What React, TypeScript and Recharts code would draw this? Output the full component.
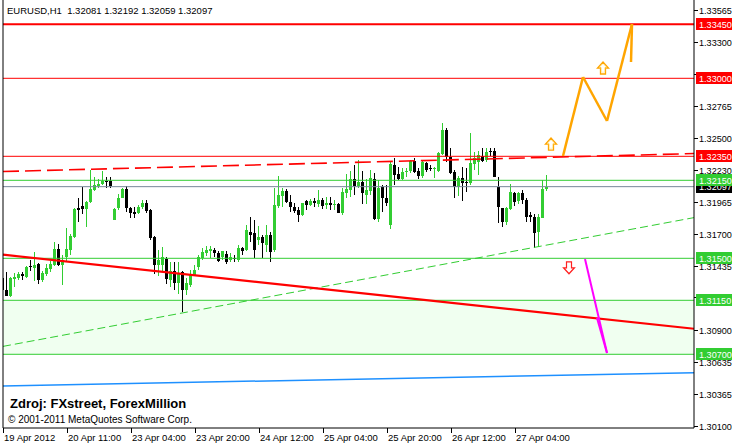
import React from 'react';
import { ComposedChart, Bar, XAxis, YAxis, ReferenceLine, ReferenceArea, ReferenceDot } from 'recharts';

const FONT = "'Liberation Sans', Arial, sans-serif";

// EURUSD H1 candles (bar index 0 = 19 Apr 2012 19:00)
const opens = [
  1.31336, 1.31236, 1.31186, 1.31328, 1.31336, 1.31369, 1.31344, 1.31436, 1.31419, 1.31453,
  1.31319, 1.31369, 1.31411, 1.31444, 1.31578, 1.31444, 1.31511, 1.31569, 1.31678, 1.31919,
  1.31936, 1.31911, 1.31969, 1.32069, 1.32103, 1.32119, 1.32148, 1.32144, 1.31819, 1.31919,
  1.32003, 1.32078, 1.31919, 1.31882, 1.31878, 1.31928, 1.31961, 1.31903, 1.31678, 1.31444,
  1.31444, 1.31494, 1.31319, 1.31394, 1.31294, 1.31386, 1.31236, 1.31278, 1.31361, 1.31428,
  1.31503, 1.31544, 1.31561, 1.31569, 1.31544, 1.31511, 1.31536, 1.31486, 1.31503, 1.31486,
  1.31586, 1.31569, 1.31719, 1.31711, 1.31653, 1.31678, 1.31611, 1.31694, 1.31569, 1.31936,
  1.32019, 1.32061, 1.31969, 1.31928, 1.31903, 1.31861, 1.31978, 1.31944, 1.31978, 1.31953,
  1.31986, 1.31944, 1.31961, 1.31944, 1.31953, 1.31878, 1.32044, 1.32069, 1.32161, 1.32103,
  1.32136, 1.32028, 1.32061, 1.32161, 1.31828, 1.32094, 1.32003, 1.31778, 1.32278, 1.32203,
  1.32161, 1.32215, 1.32228, 1.32311, 1.32228, 1.32186, 1.32294, 1.32253, 1.32244, 1.32228,
  1.32369, 1.32569, 1.32344, 1.32219, 1.32094, 1.32169, 1.32136, 1.32128, 1.32286, 1.32303,
  1.32353, 1.32319, 1.32394, 1.32394, 1.32094, 1.31919, 1.31803, 1.31911, 1.32044, 1.31978,
  1.32044, 1.31986, 1.31861, 1.31844, 1.31719, 1.31836, 1.32081,
];
const highs = [
  1.31344, 1.31386, 1.31344, 1.31378, 1.31386, 1.31386, 1.31436, 1.31486, 1.31553, 1.31461,
  1.31394, 1.31453, 1.31478, 1.31636, 1.31619, 1.31528, 1.31753, 1.31703, 1.31919, 1.32003,
  1.32094, 1.31978, 1.32236, 1.32178, 1.32161, 1.32228, 1.32178, 1.32178, 1.31919, 1.32036,
  1.32086, 1.32103, 1.31928, 1.31928, 1.31944, 1.31986, 1.31986, 1.31911, 1.31686, 1.31569,
  1.31594, 1.31511, 1.31469, 1.31469, 1.31469, 1.31394, 1.31336, 1.31403, 1.31444, 1.31528,
  1.31586, 1.31603, 1.31603, 1.31586, 1.31561, 1.31561, 1.31561, 1.31544, 1.31528, 1.31611,
  1.31594, 1.31778, 1.31844, 1.31819, 1.31769, 1.31694, 1.31778, 1.31719, 1.32086, 1.32186,
  1.32086, 1.32078, 1.32028, 1.31961, 1.31928, 1.31961, 1.31986, 1.31994, 1.32003, 1.32069,
  1.32003, 1.32011, 1.32011, 1.31986, 1.31961, 1.32086, 1.32203, 1.32228, 1.32278, 1.32319,
  1.32228, 1.32161, 1.32236, 1.32211, 1.32153, 1.32111, 1.32111, 1.32311, 1.32336, 1.32261,
  1.32253, 1.32253, 1.32319, 1.32336, 1.32253, 1.32311, 1.32303, 1.32278, 1.32261, 1.32386,
  1.32628, 1.32586, 1.32419, 1.32236, 1.32186, 1.32261, 1.32253, 1.32544, 1.32386, 1.32394,
  1.32419, 1.32419, 1.32419, 1.32419, 1.32178, 1.31919, 1.31928, 1.32119, 1.32053, 1.32053,
  1.32069, 1.32003, 1.31886, 1.31869, 1.31869, 1.32153, 1.32192,
];
const lows = [
  1.31178, 1.31186, 1.31178, 1.31261, 1.31319, 1.31319, 1.31336, 1.31394, 1.31311, 1.31286,
  1.31303, 1.31353, 1.31386, 1.31436, 1.31436, 1.31278, 1.31478, 1.31528, 1.31669, 1.31803,
  1.31869, 1.31761, 1.31961, 1.32061, 1.32086, 1.32111, 1.32086, 1.32086, 1.31819, 1.31903,
  1.32003, 1.31886, 1.31836, 1.31836, 1.31869, 1.31911, 1.31878, 1.31653, 1.31369, 1.31353,
  1.31394, 1.31286, 1.31261, 1.31236, 1.31203, 1.31053, 1.31194, 1.31261, 1.31353, 1.31403,
  1.31486, 1.31519, 1.31503, 1.31511, 1.31469, 1.31486, 1.31453, 1.31469, 1.31469, 1.31469,
  1.31528, 1.31561, 1.31636, 1.31503, 1.31611, 1.31503, 1.31553, 1.31469, 1.31553, 1.31919,
  1.31928, 1.31961, 1.31886, 1.31878, 1.31803, 1.31853, 1.31903, 1.31936, 1.31928, 1.31928,
  1.31911, 1.31911, 1.31903, 1.31903, 1.31878, 1.31861, 1.32003, 1.32011, 1.32028, 1.32086,
  1.31953, 1.31953, 1.32028, 1.31819, 1.31803, 1.31886, 1.31936, 1.31744, 1.32111, 1.32153,
  1.32153, 1.32178, 1.32211, 1.32211, 1.32161, 1.32169, 1.32219, 1.32228, 1.32169, 1.32219,
  1.32361, 1.32303, 1.32203, 1.32003, 1.32019, 1.31978, 1.32053, 1.32111, 1.32236, 1.32194,
  1.32303, 1.32303, 1.32353, 1.32178, 1.31794, 1.31761, 1.31778, 1.31903, 1.31936, 1.31953,
  1.31953, 1.31803, 1.31803, 1.31586, 1.31594, 1.31836, 1.32059,
];
const closes = [
  1.31236, 1.31186, 1.31336, 1.31344, 1.31369, 1.31353, 1.31428, 1.31428, 1.31444, 1.31319,
  1.31378, 1.31419, 1.31453, 1.31578, 1.31444, 1.31486, 1.31578, 1.31686, 1.31911, 1.31903,
  1.31911, 1.31969, 1.32078, 1.32111, 1.32119, 1.32144, 1.32140, 1.32103, 1.31911, 1.32003,
  1.32078, 1.31919, 1.31878, 1.31873, 1.31928, 1.31961, 1.31894, 1.31669, 1.31444, 1.31486,
  1.31511, 1.31328, 1.31394, 1.31294, 1.31378, 1.31236, 1.31294, 1.31369, 1.31403, 1.31511,
  1.31553, 1.31569, 1.31578, 1.31544, 1.31478, 1.31561, 1.31469, 1.31511, 1.31494, 1.31586,
  1.31561, 1.31736, 1.31694, 1.31569, 1.31678, 1.31628, 1.31694, 1.31553, 1.31944, 1.32028,
  1.32061, 1.31969, 1.31928, 1.31894, 1.31861, 1.31961, 1.31944, 1.31978, 1.31961, 1.31986,
  1.31936, 1.31961, 1.31944, 1.31949, 1.31878, 1.32053, 1.32078, 1.32161, 1.32103, 1.32136,
  1.32044, 1.32069, 1.32169, 1.31828, 1.32086, 1.32003, 1.31961, 1.32286, 1.32194, 1.32161,
  1.32219, 1.32228, 1.32311, 1.32219, 1.32186, 1.32303, 1.32236, 1.32244, 1.32253, 1.32378,
  1.32569, 1.32344, 1.32211, 1.32094, 1.32169, 1.32128, 1.32128, 1.32294, 1.32336, 1.32361,
  1.32311, 1.32386, 1.32382, 1.32178, 1.31928, 1.31803, 1.31919, 1.32053, 1.31969, 1.32044,
  1.31986, 1.31844, 1.31844, 1.31711, 1.31844, 1.32078, 1.32097,
];

const xTickBars = [0, 16, 32, 48, 64, 80, 96, 112, 128];
const xTickLabels = [
  '19 Apr 2012', '20 Apr 11:00', '23 Apr 04:00', '23 Apr 20:00', '24 Apr 12:00',
  '25 Apr 04:00', '25 Apr 20:00', '26 Apr 12:00', '27 Apr 04:00',
];
const yTicks = [
  1.301, 1.30365, 1.30635, 1.309, 1.3117, 1.31435, 1.317, 1.31965, 1.3223, 1.325,
  1.32765, 1.3303, 1.333, 1.33565,
];

// horizontal levels
const redLevels = [1.3345, 1.33, 1.3235];
const redWidths = [2, 1, 1];
const greenLevels = [1.3215, 1.315, 1.3115, 1.307];
const bidLevel = 1.32097;
const zoneLow = 1.307;
const zoneHigh = 1.3115;

// price boxes on the axis, drawn in this order (later on top)
const boxValues = [1.32097, 1.3215, 1.315, 1.3115, 1.307, 1.3345, 1.33, 1.3235];
const boxColors = ['#000000', '#32CD32', '#32CD32', '#32CD32', '#32CD32', '#FF0000', '#FF0000', '#FF0000'];

// sloped lines: [startBar, startPrice, endBar, endPrice]
const trendRed = [0, 1.3153, 172.75, 1.30913];
const dashedRed = [0, 1.32223, 172.75, 1.32373];
const dashedGreen = [0, 1.30766, 172.75, 1.31839];
const blueLine = [0, 1.30436, 172.75, 1.30547];

// projections
const orangeBars = [140, 145, 151, 157.25, 157];
const orangePrices = [1.32353, 1.33011, 1.32644, 1.33452, 1.33136];
const magentaSegs = [
  [145.5, 1.31494, 151, 1.30711],
  [148.5, 1.31002, 151, 1.30711],
];
const upArrows = [
  [137, 1.32452],
  [150, 1.33086],
];
const downArrows = [[141.5, 1.31421]];

const X_MAX = 172.75;
const Y_MIN = 1.300858;
const Y_MAX = 1.336525;

const data = opens.map((o, i) => ({
  bar: i,
  open: o,
  high: highs[i],
  low: lows[i],
  close: closes[i],
  range: [lows[i], highs[i]],
}));

const GREEN = '#32CD32';
const AXIS_FS = 9.1;

const Candle = (props: any) => {
  const { x, y, width, height, payload } = props;
  if (x == null || y == null || !payload) return null;
  const { open, close, high, low } = payload;
  const h = Math.abs(height);
  const top = height >= 0 ? y : y + height;
  const ratio = h / (high - low);
  const yOf = (v: number) => top + (high - v) * ratio;
  const bull = close >= open;
  const color = bull ? GREEN : '#000000';
  const cx = Math.floor(x + width / 2);
  const bt = Math.round(yOf(Math.max(open, close)));
  const bb = Math.round(yOf(Math.min(open, close)));
  const wt = Math.round(top);
  const wb = Math.round(top + h);
  return (
    <g shapeRendering="crispEdges">
      <rect x={cx} y={wt} width={1} height={Math.max(1, wb - wt)} fill={color} />
      <rect x={cx - 1} y={bt} width={3} height={Math.max(1, bb - bt)} fill={color} />
    </g>
  );
};

const XTick = (props: any) => {
  const { x, y, payload } = props;
  const idx = xTickBars.indexOf(payload.value);
  const label = idx >= 0 ? xTickLabels[idx] : '';
  return (
    <g>
      <line x1={x} x2={x} y1={y} y2={y + 5} stroke="#000" shapeRendering="crispEdges" />
      <text x={x + 1} y={y + 13} fontSize={9.5} fontFamily={FONT} fill="#000" textAnchor="start">
        {label}
      </text>
    </g>
  );
};

const YTick = (props: any) => {
  const { x, y, payload } = props;
  const v = Number(payload.value);
  const bi = boxValues.indexOf(v);
  if (bi >= 0) {
    return (
      <g>
        <rect x={x + 2} y={Math.round(y) - 6} width={40} height={12} fill={boxColors[bi]} shapeRendering="crispEdges" />
        <text x={x + 5} y={y + 3.5} fontSize={AXIS_FS} fontFamily={FONT} fill="#fff" textAnchor="start">
          {v.toFixed(5)}
        </text>
      </g>
    );
  }
  return (
    <g>
      <line x1={x} x2={x + 4} y1={y} y2={y} stroke="#000" shapeRendering="crispEdges" />
      <text x={x + 5} y={y + 3.5} fontSize={AXIS_FS} fontFamily={FONT} fill="#000" textAnchor="start">
        {v.toFixed(5)}
      </text>
    </g>
  );
};

const UpArrow = (props: any) => {
  const { cx, cy } = props;
  if (cx == null || cy == null) return null;
  const d = `M${cx},${cy - 6} L${cx + 5.5},${cy} L${cx + 2.5},${cy} L${cx + 2.5},${cy + 6} L${cx - 2.5},${cy + 6} L${cx - 2.5},${cy} L${cx - 5.5},${cy} Z`;
  return (
    <g>
      <path d={d} fill="#fff" stroke="#FFA500" strokeWidth={1.3} />
      <path d={d} fill="none" stroke="#FFE066" strokeWidth={0.6} transform={`translate(${cx},${cy}) scale(0.7) translate(${-cx},${-cy})`} />
    </g>
  );
};

const DownArrow = (props: any) => {
  const { cx, cy } = props;
  if (cx == null || cy == null) return null;
  const d = `M${cx},${cy + 6} L${cx + 5.5},${cy} L${cx + 2.5},${cy} L${cx + 2.5},${cy - 6} L${cx - 2.5},${cy - 6} L${cx - 2.5},${cy} L${cx - 5.5},${cy} Z`;
  return <path d={d} fill="#fff" stroke="#FF2020" strokeWidth={1.2} />;
};

const seg = (s: number[]) => [
  { x: s[0], y: s[1] },
  { x: s[2], y: s[3] },
];

export default function App() {
  const orangeSegs = orangeBars.slice(1).map((b, k) => [orangeBars[k], orangePrices[k], b, orangePrices[k + 1]]);
  return (
    <div style={{ position: 'absolute', left: 0, top: 0, width: 732, height: 445, background: '#fff', overflow: 'hidden' }}>
      <ComposedChart width={732} height={445} data={data} margin={{ top: 0, right: 0, bottom: 0, left: 3 }}>
        <ReferenceArea y1={zoneLow} y2={zoneHigh} fill="#F0FFF0" fillOpacity={1} stroke="none" />
        <Bar dataKey="range" barSize={3} shape={(p: any) => <Candle {...p} />} isAnimationActive={false} />
        <ReferenceLine y={bidLevel} stroke="#778899" strokeWidth={1} />
        {greenLevels.map((v) => (
          <ReferenceLine key={'g' + v} y={v} stroke={GREEN} strokeWidth={1} />
        ))}
        <ReferenceLine segment={seg(dashedGreen)} stroke={GREEN} strokeWidth={1} strokeDasharray="8 4" />
        <ReferenceLine segment={seg(blueLine)} stroke="#1E90FF" strokeWidth={1.5} />
        <ReferenceLine segment={seg(trendRed)} stroke="#FF0000" strokeWidth={2.2} />
        <ReferenceLine segment={seg(dashedRed)} stroke="#FF0000" strokeWidth={1.6} strokeDasharray="16 6" />
        {redLevels.map((v, k) => (
          <ReferenceLine key={'r' + v} y={v} stroke="#FF0000" strokeWidth={redWidths[k]} />
        ))}
        {orangeSegs.map((s, k) => (
          <ReferenceLine key={'o' + k} segment={seg(s)} stroke="#FFA500" strokeWidth={2.5} />
        ))}
        {magentaSegs.map((s, k) => (
          <ReferenceLine key={'m' + k} segment={seg(s)} stroke="#FF00FF" strokeWidth={2} />
        ))}
        {upArrows.map((a, k) => (
          <ReferenceDot key={'u' + k} x={a[0]} y={a[1]} r={6} shape={(p: any) => <UpArrow {...p} />} />
        ))}
        {downArrows.map((a, k) => (
          <ReferenceDot key={'d' + k} x={a[0]} y={a[1]} r={6} shape={(p: any) => <DownArrow {...p} />} />
        ))}
        <ReferenceLine x={0} stroke="#000" strokeWidth={1} />
        <XAxis
          dataKey="bar"
          type="number"
          domain={[0, X_MAX]}
          allowDataOverflow
          ticks={xTickBars}
          interval={0}
          tick={<XTick />}
          tickLine={false}
          tickSize={0}
          tickMargin={0}
          axisLine={{ stroke: '#000' }}
          height={17}
        />
        <YAxis
          orientation="right"
          type="number"
          domain={[Y_MIN, Y_MAX]}
          allowDataOverflow
          ticks={[...yTicks, ...boxValues]}
          interval={0}
          tick={<YTick />}
          tickLine={false}
          tickSize={0}
          tickMargin={0}
          axisLine={{ stroke: '#000' }}
          width={38}
        />
      </ComposedChart>
      <svg width={732} height={445} style={{ position: 'absolute', left: 0, top: 0, pointerEvents: 'none' }}>
        <text x={7} y={14} fontSize={9.5} fontFamily={FONT} fill="#000" style={{ whiteSpace: 'pre' }}>
          {'EURUSD,H1  1.32081 1.32192 1.32059 1.32097'}
        </text>
        <text x={10} y={408} fontSize={13} fontWeight="bold" fontFamily={FONT} fill="#000">
          Zdroj: FXstreet, ForexMillion
        </text>
        <text x={8} y={423} fontSize={10} fontFamily={FONT} fill="#000">
          © 2001-2011 MetaQuotes Software Corp.
        </text>
      </svg>
    </div>
  );
}
